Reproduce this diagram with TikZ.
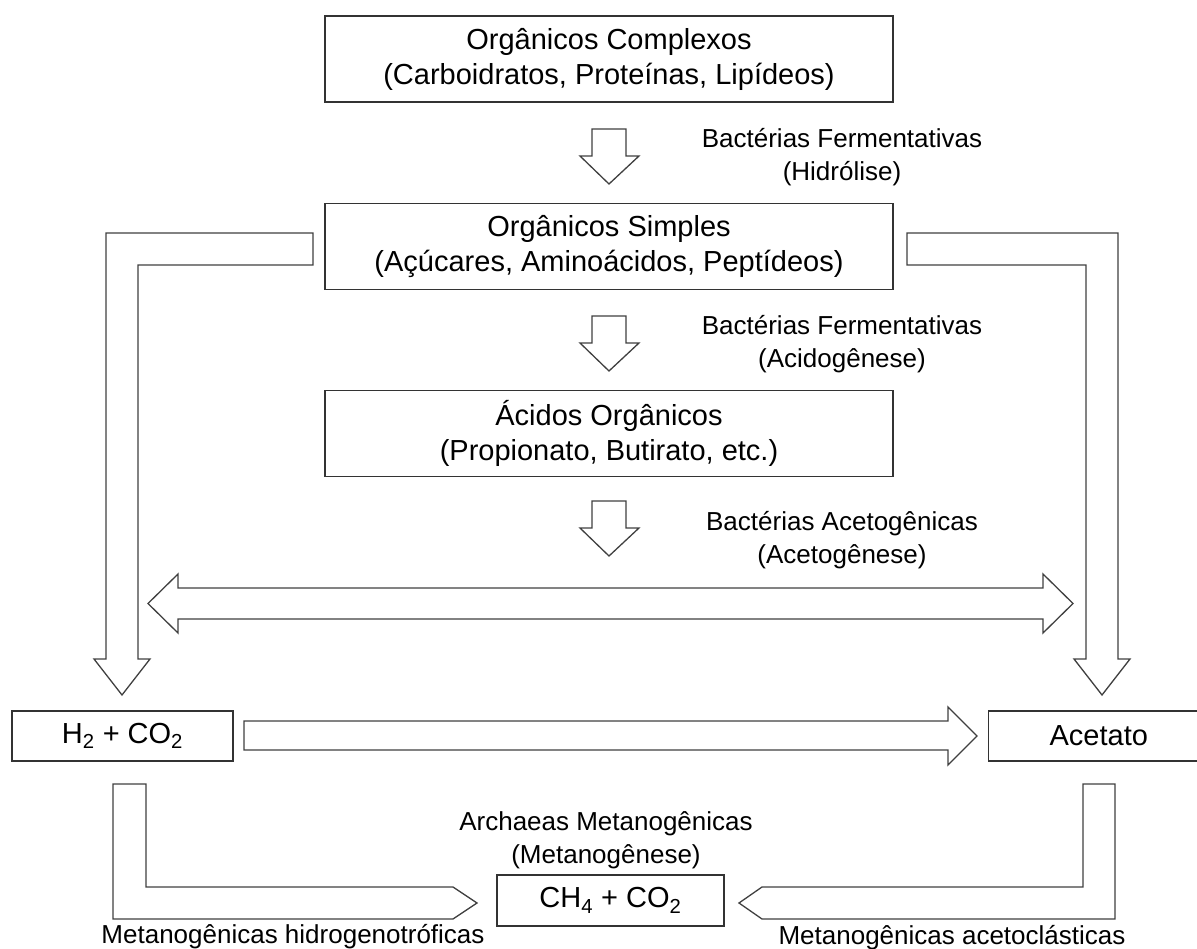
\documentclass[tikz,border=0pt]{standalone}
\usepackage{fontspec}
\setmainfont{Liberation Sans}
\usetikzlibrary{positioning}

\begin{document}
\begin{tikzpicture}[
            x = 1pt, y = -1pt, % one unit is one pixel, y downwards
            line join = miter,
            semithick % line style
        ]

        \tikzstyle{box}=[
            draw = black!80,
            line width = 1.3pt,
            fill = white,
            align = center,
            inner sep = 0pt,
            font = \fontsize{29}{35}\selectfont
        ]
        \tikzstyle{fat arrow}=[
            draw = black!75,
            line width = 1.3pt,
            fill = white
        ]
        \tikzstyle{tag}=[
            align = center,
            inner sep = 0pt,
            font = \fontsize{26}{33}\selectfont
        ]

        \useasboundingbox (0,0) rectangle (1197,949);

        % boxes
        \node[box, minimum width=568pt, minimum height=86pt] (complexos) at (609,59) {Orgânicos Complexos\\(Carboidratos, Proteínas, Lipídeos)};
        \node[box, minimum width=568pt, minimum height=86pt] (simples) [below=100pt of complexos] {Orgânicos Simples\\(Açúcares, Aminoácidos, Peptídeos)};
        \node[box, minimum width=568pt, minimum height=86pt] (acidos) [below=100pt of simples] {Ácidos Orgânicos\\(Propionato, Butirato, etc.)};
        \node[box, minimum width=221pt, minimum height=50pt] (h2) at (122.5,736) {H\textsubscript{2} + CO\textsubscript{2}};
        \node[box, minimum width=221pt, minimum height=50pt] (acetato) [right=754pt of h2] {Acetato};
        \node[box, minimum width=227pt, minimum height=51pt] (ch4) at (610.5,900.5) {CH\textsubscript{4} + CO\textsubscript{2}};

        % small arrows down the middle
        \foreach \ya in {129,316,501}
            \draw[fat arrow] (592,\ya) -- (626,\ya) -- (626,\ya+27) -- (639,\ya+27)
                -- (609,\ya+55) -- (580,\ya+27) -- (592,\ya+27) -- cycle;

        % elbows from the simple organics
        \draw[fat arrow] (313,233) -- (106,233) -- (106,659) -- (94,659) -- (122,695)
            -- (150,659) -- (138,659) -- (138,265) -- (313,265) -- cycle;
        \draw[fat arrow] (907,233) -- (1118,233) -- (1118,659) -- (1130,659) -- (1102,695)
            -- (1074,659) -- (1086,659) -- (1086,265) -- (907,265) -- cycle;

        % both ways
        \draw[fat arrow] (148,603.5) -- (178,574) -- (178,588) -- (1043,588) -- (1043,574)
            -- (1073,603.5) -- (1043,633) -- (1043,619) -- (178,619) -- (178,633) -- cycle;

        % H2 to acetate
        \draw[fat arrow] (244,721) -- (948,721) -- (948,707) -- (977,736) -- (948,765)
            -- (948,750) -- (244,750) -- cycle;

        % towards methane
        \draw[fat arrow] (113,784) -- (146,784) -- (146,887) -- (453,887) -- (477,903)
            -- (453,919) -- (113,919) -- cycle;
        \draw[fat arrow] (1115,784) -- (1083,784) -- (1083,887) -- (762,887) -- (739,903)
            -- (762,919) -- (1115,919) -- cycle;

        % labels
        \node[tag] (hidrolise) at (842,157) {Bactérias Fermentativas\\(Hidrólise)};
        \node[tag] (acidogenese) at (842,344) {Bactérias Fermentativas\\(Acidogênese)};
        \node[tag] (acetogenese) at (842,540) {Bactérias Acetogênicas\\(Acetogênese)};
        \node[tag] (metanogenese) at (606,840) {Archaeas Metanogênicas\\(Metanogênese)};
        \node[tag] (hidrogeno) at (293,937) {Metanogênicas hidrogenotróficas};
        \node[tag] (acetoclast) at (952,938) {Metanogênicas acetoclásticas};

  \end{tikzpicture}
\end{document}
